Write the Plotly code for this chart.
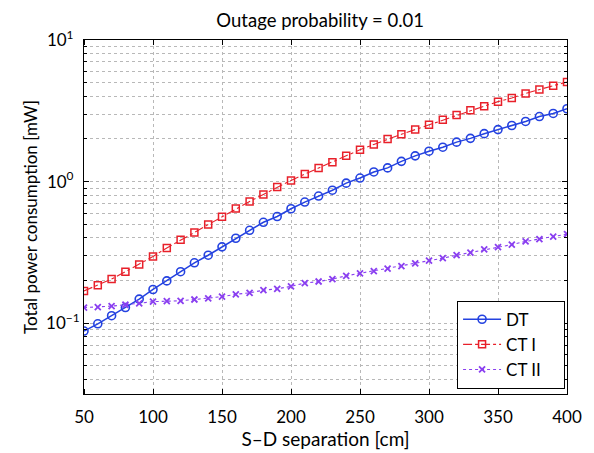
import plotly.graph_objects as go

x_cm = list(range(50, 401, 10))

dt = [0.088, 0.099, 0.113, 0.129, 0.148, 0.173, 0.199, 0.231, 0.267, 0.302,
      0.346, 0.398, 0.453, 0.516, 0.567, 0.643, 0.717, 0.791, 0.869, 0.975,
      1.06, 1.17, 1.25, 1.39, 1.52, 1.64, 1.75, 1.90, 2.02, 2.18,
      2.33, 2.49, 2.66, 2.88, 3.03, 3.27]

ct1 = [0.169, 0.185, 0.205, 0.231, 0.260, 0.296, 0.340, 0.388, 0.437, 0.497,
       0.564, 0.646, 0.724, 0.812, 0.915, 1.02, 1.13, 1.25, 1.37, 1.52,
       1.68, 1.83, 2.00, 2.16, 2.33, 2.52, 2.73, 2.95, 3.19, 3.41,
       3.67, 3.89, 4.19, 4.48, 4.76, 5.05]

ct2 = [0.129, 0.130, 0.132, 0.135, 0.138, 0.142, 0.143, 0.144, 0.147, 0.150,
       0.154, 0.160, 0.164, 0.171, 0.175, 0.182, 0.192, 0.197, 0.205, 0.216,
       0.225, 0.233, 0.243, 0.253, 0.265, 0.277, 0.288, 0.302, 0.315, 0.332,
       0.344, 0.359, 0.378, 0.392, 0.409, 0.426]

series_names = ["DT", "CT I", "CT II"]

x_ticks = [50, 100, 150, 200, 250, 300, 350, 400]
y_major = [0.1, 1, 10]
y_major_text = ["10<sup>−1</sup>", "10<sup>0\u00a0\u00a0</sup>", "10<sup>1\u00a0\u00a0</sup>"]
y_minor = [0.04, 0.05, 0.06, 0.07, 0.08, 0.09,
           0.2, 0.3, 0.4, 0.5, 0.6, 0.7, 0.8, 0.9,
           2, 3, 4, 5, 6, 7, 8, 9]

FONT = "Lato, Open Sans, sans-serif"
GRID = "#b8b8b8"
PAD = "\u00a0\u00a0\u00a0\u00a0"

fig = go.Figure()
fig.add_trace(go.Scatter(
    x=x_cm, y=dt, name=series_names[0] + PAD, mode="lines+markers",
    line=dict(color="#2442e0", width=1.5, dash="solid"),
    marker=dict(symbol="circle-open", size=8, color="#2442e0", line=dict(width=1.6)),
))
fig.add_trace(go.Scatter(
    x=x_cm, y=ct1, name=series_names[1] + PAD, mode="lines+markers",
    line=dict(color="#e8202a", width=1.1, dash="dashdot"),
    marker=dict(symbol="square-open", size=7, color="#e8202a", line=dict(width=1.5)),
))
fig.add_trace(go.Scatter(
    x=x_cm, y=ct2, name=series_names[2] + PAD, mode="lines+markers",
    line=dict(color="#8a3ff0", width=1.1, dash="dot"),
    marker=dict(symbol="x-thin-open", size=6, color="#8a3ff0", line=dict(width=1.8, color="#8a3ff0")),
))

axis_common = dict(
    showline=True, linecolor="black", linewidth=1, mirror="ticks",
    showgrid=True, gridcolor=GRID, griddash="dot", gridwidth=1,
    zeroline=False,
    tickfont=dict(family=FONT, size=17, color="black"),
)

# x: transparent outside major ticks push the labels down; visible inside ticks come from minor ticks
fig.update_xaxes(
    range=[50, 400], tickvals=x_ticks,
    ticks="outside", ticklen=8, tickcolor="rgba(0,0,0,0)",
    minor=dict(tickvals=x_ticks, ticks="inside", ticklen=5, tickcolor="black", showgrid=False),
    title=dict(text="S–D separation [cm]", font=dict(family=FONT, size=19, color="black"), standoff=0),
    **axis_common,
)
fig.update_yaxes(
    type="log", range=[-1.5, 1], tickvals=y_major, ticktext=y_major_text,
    ticks="inside", ticklen=5, tickcolor="black",
    minor=dict(tickvals=y_minor, ticks="inside", ticklen=3, tickcolor="black",
               showgrid=True, gridcolor=GRID, griddash="dot", gridwidth=1),
    title=dict(text="Total power consumption [mW]", font=dict(family=FONT, size=17, color="black"), standoff=4),
    **axis_common,
)

# the page body adds a small offset, so the figure is sized to fit the window
fig.update_layout(
    width=586, height=445,
    margin=dict(l=76, r=21, t=32, b=46),
    paper_bgcolor="white", plot_bgcolor="white",
    title=dict(text="Outage probability = 0.01", xref="paper", x=0.489, xanchor="center",
               yref="container", y=0.972, yanchor="middle",
               font=dict(family=FONT, size=18.5, color="black")),
    legend=dict(x=0.996, y=0.015, xanchor="right", yanchor="bottom",
                bgcolor="white", bordercolor="black", borderwidth=1,
                font=dict(family=FONT, size=17, color="black"),
                tracegroupgap=0, itemwidth=38),
    showlegend=True,
)

fig.write_html("out.html")
